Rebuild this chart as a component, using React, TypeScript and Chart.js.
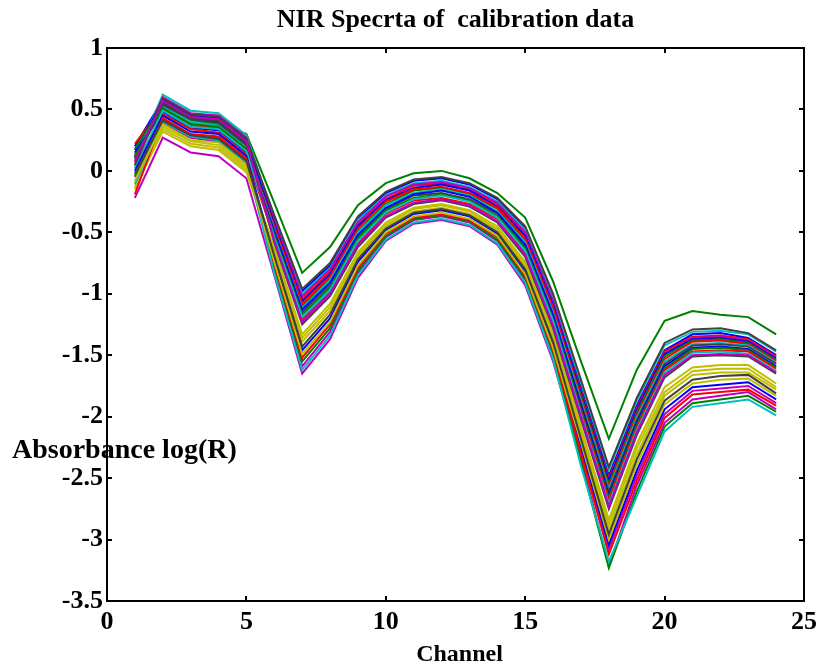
import React, { useEffect, useRef } from "react";
import { Chart, registerables } from "chart.js";

Chart.register(...registerables);

const TITLE = "NIR Specrta of  calibration data";
const X_LABEL = "Channel";
const Y_LABEL = "Absorbance log(R)";

const channels = [1, 2, 3, 4, 5, 6, 7, 8, 9, 10, 11, 12, 13, 14, 15, 16, 17, 18, 19, 20, 21, 22, 23, 24];

const s00 = [0.20, 0.58, 0.45, 0.43, 0.25, -0.37, -0.98, -0.77, -0.39, -0.18, -0.08, -0.06, -0.11, -0.23, -0.47, -1.02, -1.76, -2.48, -1.91, -1.46, -1.33, -1.32, -1.36, -1.50];
const s01 = [0.11, 0.50, 0.40, 0.39, 0.30, -0.26, -0.83, -0.62, -0.28, -0.10, -0.02, 0.00, -0.06, -0.18, -0.38, -0.90, -1.55, -2.18, -1.62, -1.22, -1.14, -1.17, -1.19, -1.33];
const s02 = [0.22, 0.52, 0.39, 0.37, 0.19, -0.42, -1.04, -0.82, -0.44, -0.23, -0.12, -0.10, -0.15, -0.27, -0.52, -1.07, -1.79, -2.50, -1.93, -1.47, -1.35, -1.34, -1.37, -1.51];
const s03 = [0.09, 0.62, 0.49, 0.47, 0.29, -0.39, -1.00, -0.79, -0.40, -0.20, -0.10, -0.08, -0.13, -0.25, -0.48, -1.04, -1.72, -2.43, -1.87, -1.42, -1.31, -1.30, -1.33, -1.47];
const s04 = [0.07, 0.60, 0.47, 0.45, 0.27, -0.40, -1.02, -0.80, -0.42, -0.21, -0.11, -0.09, -0.14, -0.26, -0.50, -1.06, -1.81, -2.52, -1.95, -1.49, -1.36, -1.35, -1.38, -1.52];
const s05 = [-0.15, 0.34, 0.22, 0.19, 0.01, -0.62, -1.33, -1.08, -0.66, -0.42, -0.30, -0.27, -0.32, -0.45, -0.74, -1.32, -2.08, -2.84, -2.22, -1.76, -1.60, -1.58, -1.58, -1.73];
const s06 = [0.11, 0.59, 0.46, 0.44, 0.26, -0.36, -0.96, -0.75, -0.37, -0.17, -0.07, -0.05, -0.10, -0.22, -0.45, -1.00, -1.70, -2.41, -1.85, -1.40, -1.29, -1.28, -1.32, -1.46];
const s07 = [0.17, 0.55, 0.42, 0.40, 0.22, -0.43, -1.06, -0.84, -0.45, -0.24, -0.14, -0.11, -0.16, -0.29, -0.53, -1.09, -1.81, -2.52, -1.95, -1.49, -1.37, -1.36, -1.39, -1.53];
const s08 = [0.18, 0.53, 0.41, 0.38, 0.20, -0.46, -1.10, -0.88, -0.49, -0.27, -0.16, -0.14, -0.19, -0.31, -0.57, -1.13, -1.83, -2.55, -1.97, -1.51, -1.38, -1.37, -1.40, -1.54];
const s09 = [0.13, 0.50, 0.37, 0.35, 0.17, -0.45, -1.08, -0.86, -0.47, -0.25, -0.15, -0.13, -0.18, -0.30, -0.55, -1.11, -1.85, -2.57, -1.99, -1.53, -1.39, -1.38, -1.41, -1.55];
const s10 = [0.14, 0.52, 0.40, 0.37, 0.19, -0.48, -1.12, -0.89, -0.50, -0.28, -0.18, -0.15, -0.20, -0.33, -0.58, -1.15, -1.87, -2.59, -2.01, -1.55, -1.41, -1.40, -1.42, -1.56];
const s11 = [-0.05, 0.39, 0.27, 0.24, 0.06, -0.80, -1.59, -1.31, -0.83, -0.54, -0.40, -0.37, -0.42, -0.57, -0.89, -1.50, -2.27, -3.08, -2.48, -1.98, -1.79, -1.77, -1.75, -1.89];
const s12 = [-0.10, 0.36, 0.24, 0.21, 0.03, -0.64, -1.36, -1.11, -0.68, -0.44, -0.31, -0.28, -0.33, -0.47, -0.76, -1.34, -2.14, -2.92, -2.31, -1.83, -1.66, -1.64, -1.64, -1.78];
const s13 = [0.10, 0.54, 0.42, 0.39, 0.21, -0.51, -1.15, -0.93, -0.54, -0.31, -0.20, -0.18, -0.23, -0.35, -0.62, -1.19, -1.89, -2.61, -2.03, -1.57, -1.42, -1.41, -1.43, -1.57];
const s14 = [0.15, 0.48, 0.35, 0.33, 0.15, -0.49, -1.13, -0.91, -0.52, -0.30, -0.19, -0.16, -0.21, -0.34, -0.60, -1.17, -1.91, -2.64, -2.05, -1.59, -1.44, -1.43, -1.45, -1.59];
const s15 = [0.12, 0.51, 0.38, 0.36, 0.18, -0.52, -1.17, -0.95, -0.55, -0.32, -0.22, -0.19, -0.24, -0.37, -0.63, -1.21, -1.94, -2.66, -2.07, -1.61, -1.45, -1.44, -1.46, -1.60];
const s16 = [0.04, 0.46, 0.34, 0.31, 0.13, -0.55, -1.21, -0.98, -0.59, -0.35, -0.24, -0.22, -0.27, -0.39, -0.67, -1.24, -1.96, -2.68, -2.09, -1.62, -1.47, -1.46, -1.47, -1.61];
const s17 = [0.02, 0.49, 0.36, 0.34, 0.16, -0.54, -1.19, -0.97, -0.57, -0.34, -0.23, -0.20, -0.25, -0.38, -0.65, -1.22, -1.98, -2.71, -2.11, -1.64, -1.48, -1.47, -1.49, -1.63];
const s18 = [-0.22, 0.27, 0.15, 0.12, -0.06, -0.85, -1.65, -1.37, -0.87, -0.57, -0.43, -0.40, -0.45, -0.60, -0.93, -1.55, -2.34, -3.22, -2.56, -2.05, -1.86, -1.83, -1.80, -1.94];
const s19 = [-0.13, 0.32, 0.20, 0.17, -0.01, -0.67, -1.39, -1.14, -0.70, -0.45, -0.33, -0.30, -0.35, -0.48, -0.78, -1.37, -2.11, -2.88, -2.26, -1.80, -1.63, -1.61, -1.61, -1.76];
const s20 = [0.05, 0.56, 0.43, 0.41, 0.23, -0.58, -1.25, -1.02, -0.62, -0.38, -0.27, -0.24, -0.29, -0.42, -0.70, -1.28, -2.02, -2.75, -2.15, -1.68, -1.51, -1.50, -1.51, -1.65];
const s21 = [0.00, 0.45, 0.32, 0.30, 0.12, -0.71, -1.46, -1.20, -0.74, -0.48, -0.35, -0.32, -0.37, -0.51, -0.82, -1.41, -2.24, -3.04, -2.44, -1.94, -1.76, -1.74, -1.72, -1.86];
const s22 = [-0.04, 0.42, 0.29, 0.27, 0.09, -0.78, -1.55, -1.28, -0.81, -0.53, -0.39, -0.36, -0.41, -0.56, -0.87, -1.48, -2.37, -3.23, -2.61, -2.08, -1.89, -1.86, -1.83, -1.96];
const s23 = [-0.19, 0.43, 0.30, 0.28, 0.10, -0.76, -1.52, -1.25, -0.79, -0.51, -0.38, -0.35, -0.40, -0.54, -0.85, -1.46, -2.30, -3.12, -2.52, -2.01, -1.82, -1.80, -1.78, -1.91];
const s24 = [-0.11, 0.40, 0.28, 0.25, 0.07, -0.83, -1.62, -1.34, -0.85, -0.56, -0.42, -0.39, -0.44, -0.59, -0.91, -1.53, -2.40, -3.18, -2.65, -2.12, -1.92, -1.89, -1.86, -1.99];
const s25 = [0.08, 0.57, 0.44, 0.42, 0.24, -0.57, -1.23, -1.00, -0.60, -0.37, -0.26, -0.23, -0.28, -0.41, -0.68, -1.26, -2.00, -2.73, -2.13, -1.66, -1.50, -1.49, -1.50, -1.64];
const s26 = [-0.08, 0.38, 0.25, 0.23, 0.05, -0.74, -1.49, -1.23, -0.77, -0.50, -0.37, -0.34, -0.39, -0.53, -0.84, -1.44, -2.21, -3.00, -2.39, -1.90, -1.73, -1.70, -1.69, -1.83];
const s27 = [-0.02, 0.41, 0.29, 0.26, 0.08, -0.69, -1.43, -1.17, -0.72, -0.47, -0.34, -0.31, -0.36, -0.50, -0.80, -1.39, -2.18, -2.96, -2.35, -1.87, -1.70, -1.67, -1.66, -1.81];

const spectra = [s00, s01, s02, s03, s04, s05, s06, s07, s08, s09, s10, s11, s12, s13, s14, s15, s16, s17, s18, s19, s20, s21, s22, s23, s24, s25, s26, s27];

const xTicks = { min: 0, max: 25, step: 5 };
const yTicks = { min: -3.5, max: 1, step: 0.5 };

// MATLAB classic colour order
const palette = ["#0000ff", "#008000", "#ff0000", "#00bfbf", "#bf00bf", "#bfbf00", "#404040"];

const FONT = '"Liberation Serif", "Times New Roman", serif';

const framePlugin = {
  id: "matlabFrame",
  afterDraw(chart: any) {
    const { ctx, chartArea: a, scales } = chart;
    ctx.save();
    ctx.fillStyle = "#000";
    ctx.textBaseline = "alphabetic";
    ctx.textAlign = "center";
    ctx.font = `bold 26px ${FONT}`;
    ctx.fillText(TITLE, (a.left + a.right) / 2, 27);
    ctx.font = `bold 24px ${FONT}`;
    ctx.fillText(X_LABEL, (a.left + a.right) / 2 + 4, 661);
    ctx.textAlign = "left";
    ctx.font = `bold 28px ${FONT}`;
    ctx.fillText(Y_LABEL, 12, 458);

    ctx.strokeStyle = "#000";
    ctx.lineWidth = 2;
    ctx.strokeRect(a.left, a.top, a.right - a.left, a.bottom - a.top);
    const len = 5;
    ctx.beginPath();
    scales.x.ticks.forEach((t: any) => {
      const px = Math.round(scales.x.getPixelForValue(t.value));
      ctx.moveTo(px, a.bottom);
      ctx.lineTo(px, a.bottom - len);
      ctx.moveTo(px, a.top);
      ctx.lineTo(px, a.top + len);
    });
    scales.y.ticks.forEach((t: any) => {
      const py = Math.round(scales.y.getPixelForValue(t.value));
      ctx.moveTo(a.left, py);
      ctx.lineTo(a.left + len, py);
      ctx.moveTo(a.right, py);
      ctx.lineTo(a.right - len, py);
    });
    ctx.stroke();
    ctx.restore();
  },
};

export default function App() {
  const canvasRef = useRef<HTMLCanvasElement | null>(null);

  useEffect(() => {
    const canvas = canvasRef.current;
    if (!canvas) return;
    const n = spectra.length;
    const datasets = spectra.map((s, i) => ({
      label: `Sample ${i + 1}`,
      data: channels.map((c, j) => ({ x: c, y: s[j] })),
      borderColor: palette[i % palette.length],
      backgroundColor: palette[i % palette.length],
      borderWidth: 2,
      pointRadius: 0,
      tension: 0,
      fill: false,
      order: n - i,
    }));

    const chart = new Chart(canvas, {
      type: "line",
      data: { datasets },
      options: {
        animation: false,
        responsive: false,
        devicePixelRatio: 1,
        layout: { padding: { top: 48, right: 17, bottom: 0, left: 0 } },
        plugins: {
          legend: { display: false },
          tooltip: { enabled: false },
          title: { display: false },
        },
        scales: {
          x: {
            type: "linear",
            min: xTicks.min,
            max: xTicks.max,
            grid: { display: false, drawTicks: false },
            border: { display: false },
            ticks: {
              stepSize: xTicks.step,
              padding: 6,
              color: "#000",
              font: { family: FONT, size: 26, weight: "bold" },
              maxRotation: 0,
              callback: (v: any) => String(v),
            },
            afterFit: (scale: any) => {
              scale.height = 68;
            },
          },
          y: {
            type: "linear",
            min: yTicks.min,
            max: yTicks.max,
            grid: { display: false, drawTicks: false },
            border: { display: false },
            ticks: {
              stepSize: yTicks.step,
              padding: 4,
              color: "#000",
              font: { family: FONT, size: 26, weight: "bold" },
              callback: (v: any) => String(v),
            },
            afterFit: (scale: any) => {
              scale.width = 107;
            },
          },
        },
      },
      plugins: [framePlugin],
    } as any);

    return () => chart.destroy();
  }, []);

  return (
    <div style={{ position: "absolute", left: 0, top: 0, width: 823, height: 669, background: "#fff" }}>
      <canvas ref={canvasRef} width={823} height={669} style={{ display: "block" }} />
    </div>
  );
}
